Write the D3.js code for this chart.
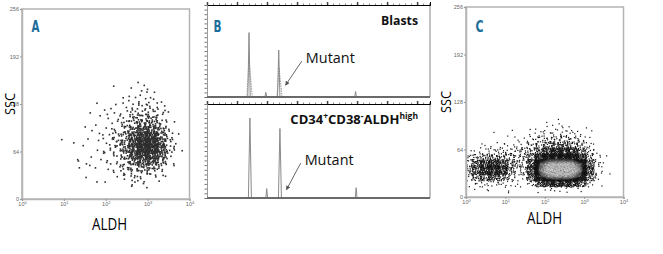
<!DOCTYPE html>
<html>
<head>
<meta charset="utf-8">
<script src="https://cdn.jsdelivr.net/npm/d3@7"></script>
<style>
  body { margin: 0; background: #fff; }
  .tick text { font-family: "Liberation Sans", sans-serif; fill: #666; }
</style>
</head>
<body>
<div id="fig"></div>
<script>
// ---------- data ----------

// Panel A: events per bin, columns = lower edge of log10(ALDH) bin, rows = lower edge of SSC bin
var aLogEdges = [1.2, 1.4, 1.6, 1.8, 2.0, 2.2, 2.4, 2.6, 2.8, 3.0, 3.2, 3.4, 3.6];
var aSscEdges = [152, 144, 136, 128, 120, 112, 104, 96, 88, 80, 72, 64, 56, 48, 40, 32, 24, 16];
var aCounts = [
  [0, 0, 0, 0, 0, 0, 0, 1, 0, 0, 0, 0, 0],
  [0, 0, 0, 0, 0, 0, 1, 0, 1, 1, 0, 0, 0],
  [0, 0, 0, 0, 0, 0, 1, 1, 2, 1, 1, 0, 0],
  [0, 0, 0, 0, 0, 1, 1, 2, 3, 2, 1, 0, 0],
  [0, 0, 0, 0, 1, 1, 2, 3, 4, 4, 2, 0, 0],
  [0, 0, 0, 1, 1, 1, 3, 5, 7, 6, 3, 1, 0],
  [0, 0, 0, 1, 1, 2, 4, 8, 11, 10, 5, 1, 0],
  [0, 0, 0, 1, 1, 3, 6, 12, 18, 16, 8, 2, 0],
  [0, 0, 1, 1, 2, 4, 9, 20, 30, 28, 14, 3, 0],
  [0, 0, 1, 1, 2, 5, 12, 30, 45, 42, 22, 4, 1],
  [1, 0, 1, 1, 3, 6, 14, 36, 55, 52, 28, 5, 1],
  [0, 1, 0, 1, 3, 6, 14, 36, 56, 54, 30, 6, 1],
  [0, 0, 1, 1, 2, 5, 12, 30, 44, 42, 24, 4, 1],
  [1, 0, 0, 1, 2, 4, 9, 20, 28, 26, 14, 3, 0],
  [0, 1, 1, 1, 2, 3, 6, 11, 14, 13, 7, 2, 0],
  [0, 0, 0, 1, 1, 2, 3, 5, 6, 5, 3, 1, 0],
  [0, 0, 0, 0, 1, 1, 2, 2, 3, 2, 1, 0, 0],
  [0, 0, 0, 0, 0, 0, 1, 1, 1, 1, 0, 0, 0]
];
// single stray events [log10(ALDH), SSC]
var aStray = [[0.95, 80], [1.33, 53], [1.53, 29], [1.37, 42], [1.79, 23], [2.63, 19],
              [2.63, 25], [1.51, 97], [1.63, 116], [1.79, 129], [2.19, 152]];

// Panel C: same layout
var cLogEdges = [0.0, 0.2, 0.4, 0.6, 0.8, 1.0, 1.2, 1.4, 1.6, 1.8, 2.0, 2.2, 2.4, 2.6, 2.8, 3.0, 3.2, 3.4];
var cSscEdges = [96, 88, 80, 72, 64, 56, 48, 40, 32, 24, 16, 8];
var cCounts = [
  [0, 0, 0, 0, 0, 0, 0, 0, 0, 1, 0, 1, 1, 0, 0, 0, 0, 0],
  [0, 0, 0, 0, 0, 0, 0, 0, 1, 1, 2, 2, 2, 1, 1, 0, 0, 0],
  [0, 0, 0, 0, 0, 0, 1, 1, 2, 3, 5, 6, 6, 5, 3, 1, 0, 0],
  [0, 0, 0, 0, 1, 1, 2, 3, 5, 8, 11, 13, 13, 11, 7, 2, 0, 0],
  [0, 1, 1, 2, 3, 4, 5, 7, 10, 18, 26, 30, 30, 26, 16, 5, 1, 0],
  [2, 3, 5, 7, 8, 8, 8, 10, 16, 36, 58, 64, 64, 58, 34, 12, 3, 0],
  [10, 16, 24, 28, 24, 16, 9, 11, 28, 80, 100, 100, 100, 98, 66, 22, 5, 1],
  [18, 36, 56, 62, 50, 22, 9, 11, 55, 125, 150, 155, 155, 150, 125, 48, 6, 1],
  [20, 42, 64, 70, 56, 24, 8, 9, 58, 135, 165, 170, 170, 165, 135, 52, 6, 1],
  [12, 26, 38, 40, 30, 13, 5, 6, 45, 115, 140, 145, 145, 140, 112, 40, 5, 0],
  [3, 6, 9, 9, 7, 4, 1, 2, 14, 52, 75, 78, 78, 75, 48, 12, 2, 0],
  [0, 1, 1, 1, 1, 1, 1, 0, 1, 2, 3, 3, 3, 3, 2, 1, 0, 0]
];
var cStray = [[0.71, 87], [0.57, 8.5], [1.08, 5.8], [1.63, 91], [2.06, 95]];

// Panel B: electropherogram traces [position, signal %]
var bTicks = [100, 110, 120, 130, 140, 150, 160, 170];
var blastsMain = [[100, 0], [113.6, 0], [114.0, 70], [114.4, 0], [119.3, 0], [119.6, 5], [119.9, 0],
                  [123.5, 0], [123.9, 51], [124.3, 0], [149.2, 0], [149.5, 6], [149.8, 0], [174.3, 0]];
var blastsEcho = [[[113.3, 0], [114.0, 40], [115.1, 0]], [[123.3, 0], [124.0, 32], [125.0, 0]]];
var sortedMain = [[100, 0], [113.8, 0], [114.3, 85], [114.8, 0], [119.6, 0], [119.9, 10], [120.2, 0],
                  [123.8, 0], [124.3, 74], [124.8, 0], [149.4, 0], [149.7, 11], [150.0, 0], [174.3, 0]];
// arrow: [tail, head] in trace coordinates
var blastsArrow = [[131.6, 39], [126.2, 13]];
var sortedArrow = [[131.2, 37], [126.5, 9]];

// ---------- canvas ----------
var width = 663, height = 254;
var svg = d3.select("#fig").append("svg")
    .attr("width", width).attr("height", height)
    .style("font-family", "'Open Sans', sans-serif");

var defs = svg.append("defs");
defs.append("marker")
    .attr("id", "head")
    .attr("viewBox", "0 0 6 6")
    .attr("refX", 5).attr("refY", 3)
    .attr("markerWidth", 5).attr("markerHeight", 5)
    .attr("orient", "auto")
    .append("path").attr("d", "M0,0L6,3L0,6z").attr("fill", "#555");

var blue = "#1c6d9a";

// low discrepancy sequence to spread events inside a bin
function halton(i, b) {
  var f = 1, r = 0;
  while (i > 0) { f /= b; r += f * (i % b); i = Math.floor(i / b); }
  return r;
}

// bilinear density of the count table at a point, used for the density shading
function densityAt(logEdges, sscEdges, counts, lg, ssc) {
  var cc = (lg - logEdges[0] - 0.1) / 0.2;
  var rr = (sscEdges[0] + 4 - ssc) / 8;
  var nc = counts[0].length - 1, nr = counts.length - 1;
  cc = Math.max(0, Math.min(nc, cc)); rr = Math.max(0, Math.min(nr, rr));
  var c0 = Math.floor(cc), r0 = Math.floor(rr);
  var c1 = Math.min(nc, c0 + 1), r1 = Math.min(nr, r0 + 1);
  var fc = cc - c0, fr = rr - r0;
  return (counts[r0][c0] * (1 - fc) + counts[r0][c1] * fc) * (1 - fr) +
         (counts[r1][c0] * (1 - fc) + counts[r1][c1] * fc) * fr;
}

function binPoints(logEdges, sscEdges, counts, seed) {
  var pts = [];
  counts.forEach(function(row, r) {
    row.forEach(function(n, c) {
      for (var k = 0; k < n; k++) {
        var i = seed + r * 977 + c * 131 + k + 1;
        var lg = logEdges[c] + 0.2 * (-0.3 + 1.6 * halton(i, 2));
        var ssc = sscEdges[r] + 8 * (-0.3 + 1.6 * halton(i, 3));
        pts.push({
          lg: lg, ssc: ssc,
          dens: densityAt(logEdges, sscEdges, counts, lg, ssc),
          grain: halton(i, 5)
        });
      }
    });
  });
  return pts;
}

// ---------- flow plot (A and C) ----------
function flowPlot(box, pts, letter, dot, colour, titleX, titleY, sscX) {
  var x = d3.scaleLog().domain([1, 1e4]).range([box.l, box.r]);
  var y = d3.scaleLinear().domain([0, 256]).range([box.b, box.t]);
  var id = "clip" + letter;

  defs.append("clipPath").attr("id", id)
    .append("rect").attr("x", box.l).attr("y", box.t)
    .attr("width", box.r - box.l).attr("height", box.b - box.t);

  pts.sort(function(a, b) { return a.dens - b.dens; });
  var g = svg.append("g").attr("clip-path", "url(#" + id + ")");
  g.selectAll("rect").data(pts).enter().append("rect")
    .attr("x", function(d) { return x(Math.pow(10, d.lg)) - dot / 2; })
    .attr("y", function(d) { return y(d.ssc) - dot / 2; })
    .attr("width", dot).attr("height", dot)
    .attr("fill", colour);

  svg.append("rect")
    .attr("x", box.l).attr("y", box.t)
    .attr("width", box.r - box.l).attr("height", box.b - box.t)
    .attr("fill", "none").attr("stroke", "#b4b4b4").attr("stroke-width", 1.5);

  var yAxis = svg.append("g")
    .attr("transform", "translate(" + box.l + ",0)")
    .call(d3.axisLeft(y).tickValues([0, 64, 128, 192, 256]).tickSize(2).tickPadding(1));
  yAxis.selectAll("text").attr("font-size", 5.5);

  var xAxis = svg.append("g")
    .attr("transform", "translate(0," + box.b + ")")
    .call(d3.axisBottom(x).tickValues([1, 10, 100, 1000, 10000]).tickSize(2).tickPadding(1));
  xAxis.selectAll("text").attr("font-size", 5.5)
    .each(function(d) {
      var t = d3.select(this);
      t.text("10");
      t.append("tspan").attr("dy", -2).attr("font-size", 4).text(Math.round(Math.log10(d)));
    });
  svg.selectAll(".domain").attr("stroke", "#b4b4b4").attr("stroke-width", 1.5);
  svg.selectAll(".tick line").attr("stroke", "#999");

  svg.append("text")
    .attr("x", titleX).attr("y", titleY)
    .attr("text-anchor", "middle")
    .attr("font-size", 15.5)
    .attr("textLength", 35).attr("lengthAdjust", "spacingAndGlyphs")
    .attr("fill", "#000")
    .text("ALDH");

  svg.append("text")
    .attr("transform", "translate(" + sscX + "," + ((box.t + box.b) / 2) + ")rotate(-90)")
    .attr("text-anchor", "middle")
    .attr("font-size", 14.5)
    .attr("textLength", 22).attr("lengthAdjust", "spacingAndGlyphs")
    .attr("fill", "#000")
    .text("SSC");

  svg.append("text")
    .attr("x", box.l + 9.5).attr("y", 31.5)
    .attr("font-family", "'DejaVu Sans', sans-serif")
    .attr("font-weight", "bold")
    .attr("font-size", 15.5)
    .attr("textLength", 8).attr("lengthAdjust", "spacingAndGlyphs")
    .attr("fill", blue)
    .text(letter);
}

var aPts = binPoints(aLogEdges, aSscEdges, aCounts, 7)
  .concat(aStray.map(function(d) { return { lg: d[0], ssc: d[1], dens: 0, grain: 0 }; }));
flowPlot({ l: 22, r: 189.5, t: 9, b: 199 }, aPts, "A", 1.6,
  function() { return "#2e2e2e"; }, 109.5, 230, 15);

// dense events are drawn lighter, like the cytometer's density display
var shade = d3.interpolateRgb("#141414", "#cfcfcf");
var cPts = binPoints(cLogEdges, cSscEdges, cCounts, 3)
  .concat(cStray.map(function(d) { return { lg: d[0], ssc: d[1], dens: 0, grain: 0 }; }));
flowPlot({ l: 466, r: 623.5, t: 7, b: 197 }, cPts, "C", 1.2,
  function(d) {
    var t = Math.max(0, Math.min(1, (d.dens - 105) / 50));
    return shade(Math.min(1, t * (0.5 + 0.8 * d.grain)));
  }, 544.5, 224, 451);

// ---------- panel B: electropherograms ----------
var xB = d3.scaleLinear().domain([100, 174.3]).range([207, 430]);

function trace(top, base, mainData, echoData, label, arrow, superLabel) {
  var y = d3.scaleLinear().domain([0, 100]).range([base, top]);
  var line = d3.line().x(function(d) { return xB(d[0]); }).y(function(d) { return y(d[1]); });

  // frame
  svg.append("line").attr("x1", 430).attr("x2", 430).attr("y1", top).attr("y2", base)
    .attr("stroke", "#9a9a9a").attr("stroke-width", 1.2);

  var topAxis = svg.append("g").attr("transform", "translate(0," + top + ")")
    .call(d3.axisTop(xB).ticks(37).tickSize(1.5).tickFormat(""));
  svg.append("g").attr("transform", "translate(0," + top + ")")
    .call(d3.axisTop(xB).tickValues(bTicks).tickSize(3).tickFormat(""))
    .selectAll(".tick line").attr("stroke", "#444").attr("stroke-width", 1.5);
  topAxis.select(".domain").attr("stroke", "#9a9a9a");
  topAxis.selectAll(".tick line").attr("stroke", "#888");

  var leftAxis = svg.append("g").attr("transform", "translate(207,0)")
    .call(d3.axisLeft(y).ticks(20).tickSize(2.5).tickFormat(""));
  leftAxis.select(".domain").attr("stroke", "#9a9a9a");
  leftAxis.selectAll(".tick line").attr("stroke", "#777");

  if (echoData) {
    echoData.forEach(function(seg) {
      svg.append("path").datum(seg).attr("d", line)
        .attr("fill", "none").attr("stroke", "#9a9a9a").attr("stroke-width", 1)
        .attr("stroke-dasharray", "1.5,1");
    });
  }
  svg.append("path").datum(mainData).attr("d", line)
    .attr("fill", "none").attr("stroke", "#8a8a8a").attr("stroke-width", 1);

  // noisy baseline
  svg.append("line").attr("x1", 207).attr("x2", 430).attr("y1", base).attr("y2", base)
    .attr("stroke", "#6a6a6a").attr("stroke-width", 2);

  var t = svg.append("text")
    .attr("x", 418).attr("y", top + 20)
    .attr("text-anchor", "end")
    .attr("font-weight", "bold").attr("font-size", 13)
    .attr("fill", "#111");
  if (superLabel) {
    label.forEach(function(p) {
      if (p.sup) t.append("tspan").attr("dy", -5).attr("font-size", 8.5).text(p.text);
      else t.append("tspan").attr("dy", p.after ? 5 : 0).text(p.text);
    });
  } else {
    t.attr("textLength", 37).attr("lengthAdjust", "spacingAndGlyphs").text(label);
  }

  svg.append("line")
    .attr("x1", xB(arrow[0][0])).attr("y1", y(arrow[0][1]))
    .attr("x2", xB(arrow[1][0])).attr("y2", y(arrow[1][1]))
    .attr("stroke", "#555").attr("stroke-width", 0.9)
    .attr("marker-end", "url(#head)");
  svg.append("text")
    .attr("x", xB(arrow[0][0]) + 4).attr("y", y(arrow[0][1]) + 2)
    .attr("font-size", 14.5)
    .attr("textLength", 49).attr("lengthAdjust", "spacingAndGlyphs")
    .attr("fill", "#111")
    .text("Mutant");
}

trace(5, 97, blastsMain, blastsEcho, "Blasts", blastsArrow, false);
trace(104, 198, sortedMain, null, [
  { text: "CD34" }, { text: "+", sup: true },
  { text: "CD38", after: true }, { text: "-", sup: true },
  { text: "ALDH", after: true }, { text: "high", sup: true }
], sortedArrow, true);

svg.append("text")
  .attr("x", 213.5).attr("y", 31.5)
  .attr("font-family", "'DejaVu Sans', sans-serif")
  .attr("font-weight", "bold").attr("font-size", 15.5)
  .attr("textLength", 8).attr("lengthAdjust", "spacingAndGlyphs")
  .attr("fill", blue)
  .text("B");
</script>
</body>
</html>
